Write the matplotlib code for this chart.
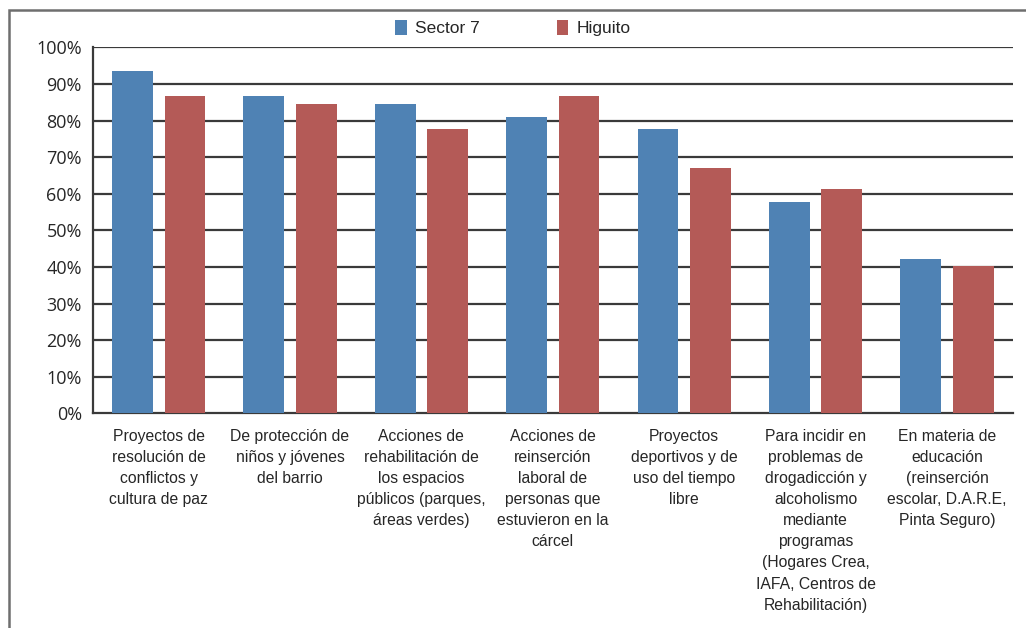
import numpy as np
import matplotlib.pyplot as plt
from matplotlib.patches import Rectangle

# DATA

categories = [
    "Proyectos de\nresolución de\nconflictos y\ncultura de paz",
    "De protección de\nniños y jóvenes\ndel barrio",
    "Acciones de\nrehabilitación de\nlos espacios\npúblicos (parques,\náreas verdes)",
    "Acciones de\nreinserción\nlaboral de\npersonas que\nestuvieron en la\ncárcel",
    "Proyectos\ndeportivos y de\nuso del tiempo\nlibre",
    "Para incidir en\nproblemas de\ndrogadicción y\nalcoholismo\nmediante\nprogramas\n(Hogares Crea,\nIAFA, Centros de\nRehabilitación)",
    "En materia de\neducación\n(reinserción\nescolar, D.A.R.E,\nPinta Seguro)",
]
sector7 = [93.7, 86.7, 84.6, 80.9, 77.7, 57.8, 42.3]
higuito = [86.7, 84.6, 77.7, 86.7, 67.1, 61.3, 40.4]
series_names = ["Sector 7", "Higuito"]
yticks = [0, 10, 20, 30, 40, 50, 60, 70, 80, 90, 100]

# STYLE

blue = "#4f82b4"
red = "#b45a57"
grid_color = "#3a3a3a"
text_color = "#262626"
label_font = ["Liberation Sans", "DejaVu Sans"]
tick_font = ["Open Sans", "DejaVu Sans"]

fig = plt.figure(figsize=(10.26, 6.28), dpi=100)
ax = fig.add_axes([0.0906, 0.3416, 0.8964, 0.5828])

x = np.arange(len(categories))
ax.bar(x - 0.2, sector7, width=0.31, color=blue, label=series_names[0], zorder=3)
ax.bar(x + 0.2, higuito, width=0.31, color=red, label=series_names[1], zorder=3)

ax.set_xlim(-0.5, len(categories) - 0.5)
ax.set_ylim(0, 100)

ax.set_yticks(yticks)
ax.set_yticklabels([f"{t}%" for t in yticks], fontsize=13, family=tick_font, color=text_color)
ax.set_xticks(x)
ax.set_xticklabels(categories, fontsize=11.3, family=label_font, color=text_color,
                   linespacing=1.51)
ax.tick_params(axis="both", length=0)
ax.tick_params(axis="y", pad=8)
ax.tick_params(axis="x", pad=11)

for t in yticks[1:]:
    ax.axhline(t, color=grid_color, lw=1.6, zorder=2)

for s in ["top", "right"]:
    ax.spines[s].set_visible(False)
for s in ["left", "bottom"]:
    ax.spines[s].set_color(grid_color)
    ax.spines[s].set_linewidth(1.6)

leg = fig.legend(loc="center", bbox_to_anchor=(0.5, 0.955), ncol=2, frameon=False,
                 handlelength=0.65, handleheight=0.9, handletextpad=0.5,
                 columnspacing=4.4, prop={"family": label_font, "size": 12.5})
for t in leg.get_texts():
    t.set_color(text_color)

# outer frame
fig.add_artist(Rectangle((9 / 1026, -0.1), 1.2, (628 - 10.5) / 628 + 0.1,
                         transform=fig.transFigure, fill=False,
                         edgecolor="#6e6e6e", lw=1.8))

plt.savefig("out.png", dpi=100)
